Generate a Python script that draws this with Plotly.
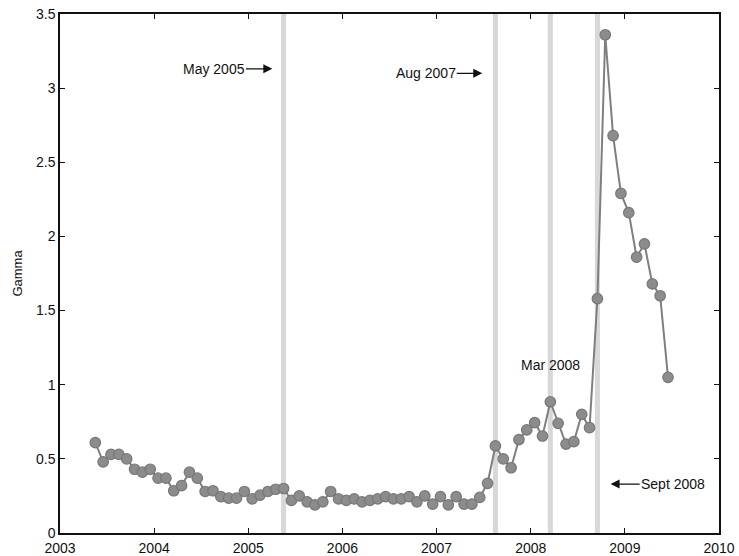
import plotly.graph_objects as go

# ---- data ----
start_year, start_month = 2003, 5
gamma = [
    # 2003 May-Dec
    0.61, 0.48, 0.53, 0.53, 0.50, 0.43, 0.41, 0.43,
    # 2004
    0.37, 0.37, 0.285, 0.32, 0.41, 0.37, 0.28, 0.285, 0.245, 0.235, 0.235, 0.28,
    # 2005
    0.23, 0.255, 0.28, 0.295, 0.30, 0.22, 0.25, 0.21, 0.19, 0.21, 0.28, 0.23,
    # 2006
    0.22, 0.23, 0.21, 0.22, 0.23, 0.245, 0.23, 0.23, 0.245, 0.21, 0.25, 0.195,
    # 2007
    0.245, 0.19, 0.245, 0.195, 0.195, 0.24, 0.335, 0.587, 0.50, 0.44, 0.63, 0.695,
    # 2008
    0.745, 0.654, 0.885, 0.74, 0.60, 0.616, 0.80, 0.71, 1.58, 3.36, 2.68, 2.29,
    # 2009 Jan-Jun
    2.16, 1.86, 1.95, 1.68, 1.60, 1.05,
]
event_labels = ["May 2005", "Aug 2007", "Mar 2008", "Sept 2008"]
event_dates = [(2005, 5), (2007, 8), (2008, 3), (2008, 9)]
x_ticks = [2003, 2004, 2005, 2006, 2007, 2008, 2009, 2010]
y_ticks = [0, 0.5, 1, 1.5, 2, 2.5, 3, 3.5]
y_tick_text = ["0", "0.5", "1", "1.5", "2", "2.5", "3", "3.5"]


def month_pos(y, m):
    return y + (m - 0.5) / 12.0


xs = []
for i in range(len(gamma)):
    mm = start_month - 1 + i
    xs.append(month_pos(start_year + mm // 12, mm % 12 + 1))

event_x = [month_pos(y, m) for (y, m) in event_dates]

fig = go.Figure()

# vertical event bands
half_w = 0.027
for ex in event_x:
    fig.add_shape(type="rect", xref="x", yref="paper", x0=ex - half_w, x1=ex + half_w,
                  y0=0, y1=1, fillcolor="#d8d8d8", line=dict(width=0), layer="below")

fig.add_trace(go.Scatter(
    x=xs, y=gamma, mode="lines+markers",
    line=dict(color="#7f7f7f", width=2),
    marker=dict(symbol="circle", size=10.5, color="#8c8c8c",
                line=dict(color="#777777", width=1.2)),
    showlegend=False, hoverinfo="skip",
))

font_fam = "Liberation Sans, Arial, sans-serif"
ann_font = dict(family=font_fam, size=14, color="#111111")
arrow_style = dict(showarrow=True, arrowhead=2, arrowsize=1.5, arrowwidth=1.2,
                   arrowcolor="#111111", xref="x", yref="y", axref="x", ayref="y",
                   font=ann_font, yanchor="middle", borderpad=0)

# May 2005 label + arrow pointing right to the band
fig.add_annotation(text=event_labels[0], x=event_x[0] - 0.12, y=3.13,
                   ax=2004.975, ay=3.13, xanchor="right", **arrow_style)
# Aug 2007
fig.add_annotation(text=event_labels[1], x=event_x[1] - 0.14, y=3.10,
                   ax=2007.214, ay=3.10, xanchor="right", **arrow_style)
# Mar 2008 (no arrow)
fig.add_annotation(x=event_x[2], y=1.13, text=event_labels[2], showarrow=False,
                   xanchor="center", yanchor="middle", font=ann_font)
# Sept 2008 (arrow pointing left)
fig.add_annotation(text=event_labels[3], x=event_x[3] + 0.14, y=0.33,
                   ax=2009.157, ay=0.33, xanchor="left", **arrow_style)

axis_common = dict(showline=True, linecolor="#111111", linewidth=1.5, mirror="ticks",
                   ticks="inside", ticklen=5, tickwidth=1.3, tickcolor="#111111",
                   showgrid=False, zeroline=False, automargin=False,
                   tickfont=dict(family=font_fam, size=14, color="#111111"))

fig.update_xaxes(range=[2003, 2010], tickvals=x_ticks,
                 ticktext=[str(t) for t in x_ticks], ticklabelstandoff=1, **axis_common)
fig.update_yaxes(range=[0, 3.5], tickvals=y_ticks, ticktext=y_tick_text,
                 title=dict(text="Gamma", font=dict(family=font_fam, size=13, color="#111111"),
                            standoff=10),
                 **axis_common)

fig.update_layout(
    width=739, height=556,
    margin=dict(l=60, r=20, t=14, b=23),
    plot_bgcolor="white", paper_bgcolor="white",
)

# remove the default 8px page margin so the figure fills the window exactly
fig.write_html("out.html", config={"displayModeBar": False},
               post_script="document.body.style.margin='0';")
